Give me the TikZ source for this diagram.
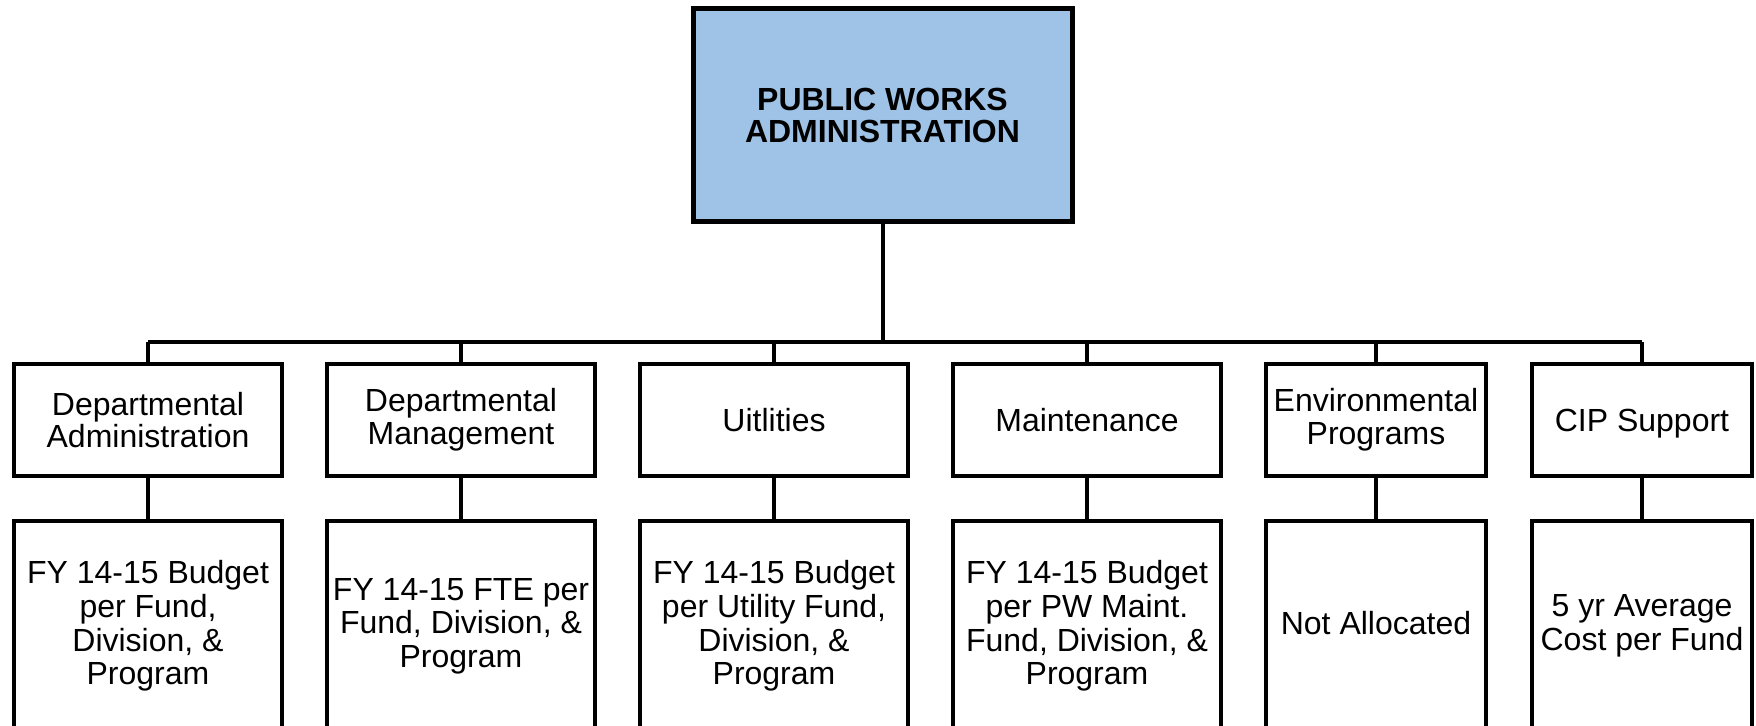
\documentclass[tikz,border=0pt]{standalone}
\usepackage{fontspec}
\setmainfont{Liberation Sans}
\definecolor{pwblue}{RGB}{159,195,230}
\tikzset{
  unit/.style={draw,line width=2pt,minimum width=134pt,minimum height=56pt,
    align=center,inner sep=1pt,font=\fontsize{16}{16.3}\selectfont},
  basis/.style={unit,minimum height=105pt,font=\fontsize{16}{16.8}\selectfont},
  link/.style={line width=1.6pt},
}
\begin{document}
\begin{tikzpicture}[x=0.5pt,y=-0.5pt]
\clip (0,0) rectangle (1756,726);
\node[draw,line width=2.5pt,fill=pwblue,minimum width=189.5pt,minimum height=106.5pt,
  align=center,font=\bfseries\fontsize{16}{15.7}\selectfont] (pwa) at (882.5,115.5)
  {PUBLIC WORKS\\ADMINISTRATION};
\node[unit] (da) at (148,420) {Departmental\\Administration};
\node[unit] (dm) at (461,420) {Departmental\\Management};
\node[unit] (ut) at (774,420) {Uitlities};
\node[unit] (mt) at (1087,420) {Maintenance};
\node[unit,minimum width=110pt] (ep) at (1376,420) {Environmental\\Programs};
\node[unit,minimum width=110pt,text depth=0pt] (cip) at (1642,420) {CIP Support};
\node[basis] (da-b) at (148,626) {FY 14-15 Budget\\per Fund,\\Division, \&\\Program};
\node[basis] (dm-b) at (461,626) {FY 14-15 FTE per\\Fund, Division, \&\\Program};
\node[basis] (ut-b) at (774,626) {FY 14-15 Budget\\per Utility Fund,\\Division, \&\\Program};
\node[basis] (mt-b) at (1087,626) {FY 14-15 Budget\\per PW Maint.\\Fund, Division, \&\\Program};
\node[basis,minimum width=110pt,text depth=3.5pt] (ep-b) at (1376,626) {Not Allocated};
\node[basis,minimum width=110pt] (cip-b) at (1642,626) {5 yr Average\\Cost per Fund};
\coordinate (bus) at (882.5,342);
\draw[line width=2pt] (pwa.south) -- (bus) -- (bus -| da.north);
\draw[link] (bus) -- (bus -| cip.north);
\foreach \n in {da,dm,ut,mt,ep,cip} {
  \draw[link] (bus -| \n.north) -- (\n.north);
  \draw[link] (\n.south) -- (\n-b.north);
}
\end{tikzpicture}
\end{document}
